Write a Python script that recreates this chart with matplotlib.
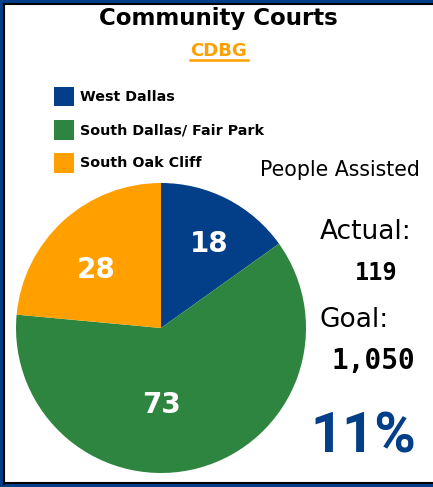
import matplotlib.pyplot as plt
from matplotlib.lines import Line2D

# Community Courts - CDBG people assisted
areas = ['West Dallas', 'South Dallas/ Fair Park', 'South Oak Cliff']
assisted = [18, 73, 28]
colors = ['#023F88', '#2E8540', '#FFA000']
actual = sum(assisted)
goal = 1050

fig = plt.figure(figsize=(4.33, 4.87), dpi=100)

# pie on the lower left
ax = fig.add_axes([16 / 433, 14 / 487, 290 / 433, 290 / 487])
wedges, texts, autotexts = ax.pie(
    assisted, colors=colors, startangle=90, counterclock=False,
    autopct=lambda p: f'{round(p * actual / 100)}', pctdistance=0.62,
    wedgeprops=dict(linewidth=0))
# value labels sit a little off the wedge midlines
label_pos = [(0.33, 0.58), (0.0, -0.53), (-0.45, 0.40)]
for t, pos in zip(autotexts, label_pos):
    t.set_position(pos)
    t.set_color('white')
    t.set_fontsize(20)
    t.set_fontweight('bold')
ax.set_xlim(-1, 1)
ax.set_ylim(-1, 1)
ax.set_aspect('equal')

# title block
fig.text(0.505, 0.962, 'Community Courts', ha='center', va='center',
         fontsize=16.5, fontweight='bold', color='black')
fig.text(0.505, 0.895, 'CDBG', ha='center', va='center',
         fontsize=13, fontweight='bold', color='#FFA000')
fig.add_artist(Line2D([0.439, 0.573], [0.876, 0.876], color='#FFA000', lw=1.8))

fig.legend(wedges, areas, loc='upper left', bbox_to_anchor=(0.1247, 0.822),
           frameon=False, prop=dict(weight='bold', size=10.3),
           handlelength=1.4, handleheight=1.75, handletextpad=0.42,
           labelspacing=0.93, borderaxespad=0, borderpad=0)

# summary figures on the right
fig.text(0.785, 0.651, 'People Assisted', ha='center', va='center', fontsize=14.8)
fig.text(0.739, 0.523, 'Actual:', ha='left', va='center', fontsize=19)
fig.text(0.87, 0.439, f'{actual}', ha='center', va='center',
         fontsize=17, fontweight='bold', family='DejaVu Sans Mono')
fig.text(0.739, 0.343, 'Goal:', ha='left', va='center', fontsize=19)
fig.text(0.862, 0.259, f'{goal:,}', ha='center', va='center',
         fontsize=20, fontweight='bold', family='DejaVu Sans Mono')
fig.text(0.84, 0.101, f'{round(actual / goal * 100)}%', ha='center', va='center',
         fontsize=40.5, fontweight='bold', color='#023F88', family='Roboto')

# frame around the card (open on the right)
for xs, ys in [([0, 1], [0.997, 0.997]), ([0.003, 0.003], [0, 1]), ([0, 1], [0.003, 0.003])]:
    fig.add_artist(Line2D(xs, ys, color='#023F88', lw=3))
for xs, ys in [([0.009, 1], [0.991, 0.991]), ([0.009, 0.009], [0.006, 0.991]), ([0.009, 1], [0.009, 0.009])]:
    fig.add_artist(Line2D(xs, ys, color='black', lw=1.5))

fig.savefig('out.png', dpi=100)
